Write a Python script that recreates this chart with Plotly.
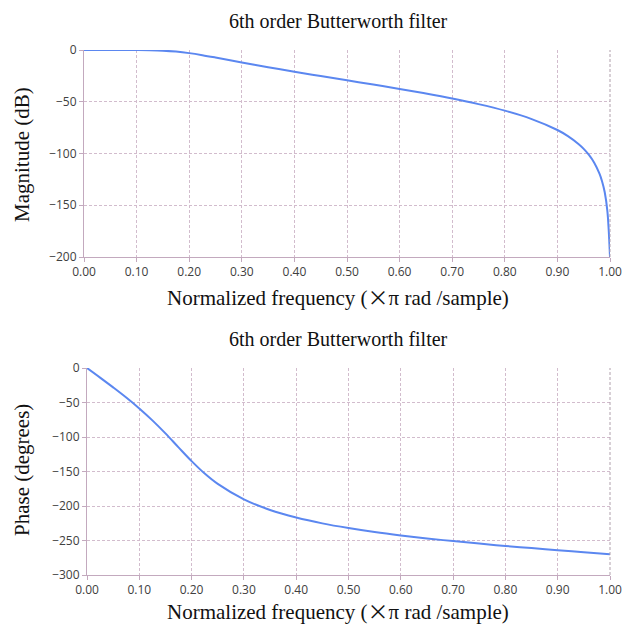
import plotly.graph_objects as go

# Data
freq_mag = [0.0, 0.025, 0.05, 0.075, 0.1, 0.125, 0.15, 0.175, 0.2, 0.225, 0.25, 0.3, 0.35,
            0.4, 0.45, 0.5, 0.55, 0.6, 0.65, 0.7, 0.75, 0.8, 0.85, 0.9, 0.92, 0.94,
            0.95, 0.96, 0.97, 0.98, 0.985, 0.99, 0.995, 0.9975, 1.0]
magnitude_db = [0.0, 0.0, 0.0, -0.01, -0.06, -0.22, -0.65, -1.55, -3.01, -4.98, -7.24, -12.0,
                -16.6, -21.0, -25.2, -29.3, -33.4, -37.6, -42.1, -46.9, -52.3, -58.6, -66.5,
                -77.3, -83.2, -90.8, -95.5, -101.4, -108.9, -119.5, -127.0, -137.5, -155.6,
                -173.7, -200.0]

freq_phase = [0.0, 0.025, 0.05, 0.075, 0.1, 0.125, 0.15, 0.175, 0.2, 0.225, 0.25, 0.3, 0.35,
              0.4, 0.45, 0.5, 0.55, 0.6, 0.65, 0.7, 0.75, 0.8, 0.85, 0.9, 0.95, 1.0]
phase_deg = [0.0, -13.9, -28.1, -42.8, -58.6, -75.9, -94.8, -115.1, -135.0, -153.0, -168.0,
             -190.4, -205.7, -216.7, -225.2, -232.0, -237.8, -242.7, -247.0, -250.9, -254.5,
             -257.9, -261.0, -264.1, -267.1, -270.0]

x_ticks = [0.0, 0.1, 0.2, 0.3, 0.4, 0.5, 0.6, 0.7, 0.8, 0.9, 1.0]
x_tick_labels = ["0.00", "0.10", "0.20", "0.30", "0.40", "0.50", "0.60", "0.70", "0.80", "0.90", "1.00"]
mag_ticks = [0, -50, -100, -150, -200]
phase_ticks = [0, -50, -100, -150, -200, -250, -300]

title_text = "6th order Butterworth filter"
x_title = ("Normalized frequency (<span style=\"font-family:'Noto Sans CJK JP'\">×</span>"
           "π rad /sample)")

LINE = "#5b87f0"
GRID = "#d2bccd"
AXIS = "#c3a9be"
TICKFONT = dict(family="Open Sans, DejaVu Sans, sans-serif", size=12, color="#404040")
SERIF = "Liberation Serif, Times New Roman, serif"

fig = go.Figure()
fig.add_trace(go.Scatter(x=freq_mag, y=magnitude_db, mode="lines", line=dict(color=LINE, width=2),
                         xaxis="x", yaxis="y", showlegend=False, line_shape="spline"))
fig.add_trace(go.Scatter(x=freq_phase, y=phase_deg, mode="lines", line=dict(color=LINE, width=2),
                         xaxis="x2", yaxis="y2", showlegend=False, line_shape="spline"))

W = H = 624
def dx(px):
    return px / W
def dy(py):
    return 1 - py / H

common_x = dict(range=[0, 1], tickvals=x_ticks, ticktext=x_tick_labels, showgrid=True,
                gridcolor=GRID, griddash="3px,2px", gridwidth=1, showline=True, linecolor=AXIS,
                linewidth=1, ticks="outside", ticklen=4, tickcolor=AXIS, tickfont=TICKFONT,
                zeroline=False, mirror=False, automargin=False)
common_y = dict(showgrid=True, gridcolor=GRID, griddash="3px,2px", gridwidth=1, showline=True,
                linecolor=AXIS, linewidth=1, ticks="outside", ticklen=4, tickcolor=AXIS,
                tickfont=TICKFONT, zeroline=False, automargin=False)

fig.update_layout(
    template="none",
    width=W, height=H, margin=dict(l=0, r=0, t=0, b=0, pad=0, autoexpand=False),
    paper_bgcolor="white", plot_bgcolor="white",
    xaxis=dict(domain=[dx(84), dx(610)], anchor="y", **common_x),
    yaxis=dict(domain=[dy(257), dy(50)], anchor="x", range=[-200, 0], tickvals=mag_ticks, **common_y),
    xaxis2=dict(domain=[dx(87), dx(610)], anchor="y2", **common_x),
    yaxis2=dict(domain=[dy(575), dy(368)], anchor="x2", range=[-300, 0], tickvals=phase_ticks, **common_y),
    shapes=[
        dict(type="line", xref="paper", yref="paper", x0=dx(610), x1=dx(610), y0=dy(257), y1=dy(50),
             line=dict(color="#b0a0ac", width=1, dash="3px,2px")),
        dict(type="line", xref="paper", yref="paper", x0=dx(610), x1=dx(610), y0=dy(575), y1=dy(368),
             line=dict(color="#b0a0ac", width=1, dash="3px,2px")),
    ],
    annotations=[
        dict(text=title_text, x=dx(338), y=dy(21), xref="paper", yref="paper", showarrow=False,
             font=dict(family=SERIF, size=20, color="#111111"), xanchor="center", yanchor="middle"),
        dict(text=title_text, x=dx(338), y=dy(339), xref="paper", yref="paper", showarrow=False,
             font=dict(family=SERIF, size=20, color="#111111"), xanchor="center", yanchor="middle"),
        dict(text=x_title, x=dx(338), y=dy(296), xref="paper", yref="paper", showarrow=False,
             font=dict(family=SERIF, size=21, color="#111111"), xanchor="center", yanchor="middle"),
        dict(text=x_title, x=dx(338), y=dy(610), xref="paper", yref="paper", showarrow=False,
             font=dict(family=SERIF, size=21, color="#111111"), xanchor="center", yanchor="middle"),
        dict(text="Magnitude (dB)", x=dx(22), y=dy(155), xref="paper", yref="paper", showarrow=False,
             textangle=-90, font=dict(family=SERIF, size=21, color="#111111"),
             xanchor="center", yanchor="middle"),
        dict(text="Phase (degrees)", x=dx(22), y=dy(470), xref="paper", yref="paper", showarrow=False,
             textangle=-90, font=dict(family=SERIF, size=21, color="#111111"),
             xanchor="center", yanchor="middle"),
    ],
)

fig.write_html("out.html")
